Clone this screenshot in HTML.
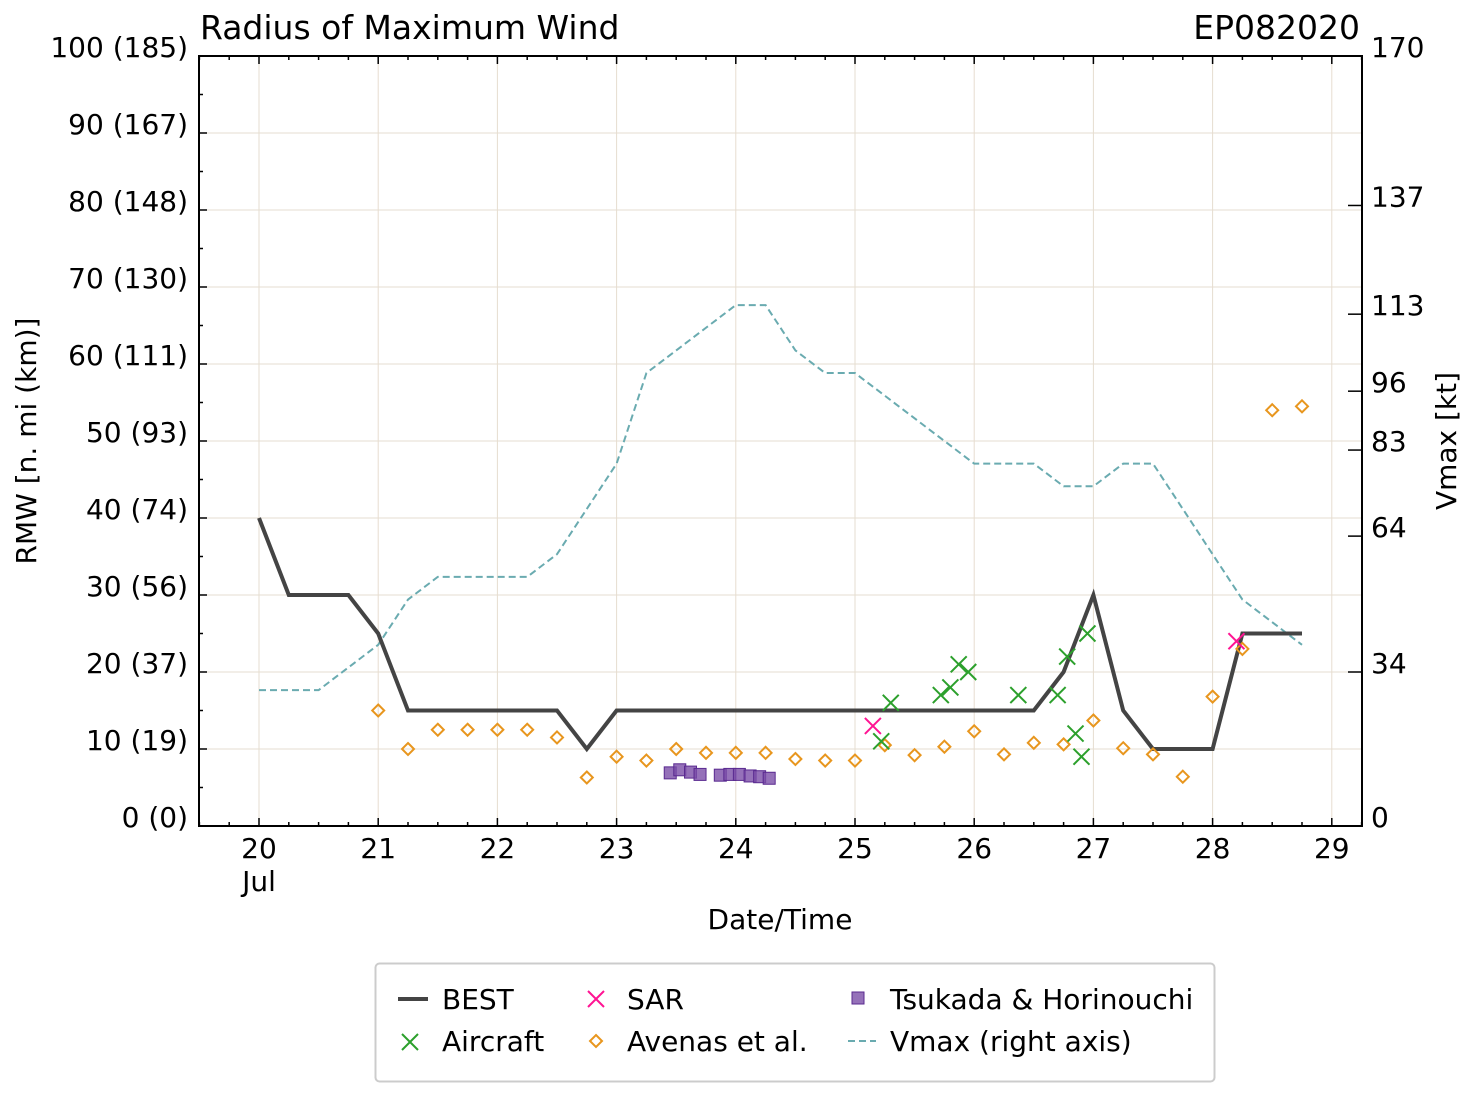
<!DOCTYPE html>
<html><head><meta charset="utf-8"><style>
body{margin:0;background:#fff;}
svg{display:block;font-family:"DejaVu Sans","Liberation Sans",sans-serif;}
</style></head><body>
<svg id="c" width="1477" height="1096" viewBox="0 0 1477 1096">
<rect width="1477" height="1096" fill="#fff"/>
<g id="grid"></g><g id="series"></g><g id="axes"></g>
<text x="200" y="39" font-size="33">Radius of Maximum Wind</text>
<text x="1360" y="39" font-size="33" text-anchor="end">EP082020</text>
<text x="780" y="929" font-size="28" text-anchor="middle">Date/Time</text>
<text transform="translate(36,441) rotate(-90)" font-size="28" text-anchor="middle">RMW [n. mi (km)]</text>
<text transform="translate(1456,441) rotate(-90)" font-size="28" text-anchor="middle">Vmax [kt]</text>
<g>
<rect x="375.5" y="963.5" width="839" height="118" rx="4" fill="#fff" stroke="#ccc" stroke-width="2"/>
<line x1="398" y1="999" x2="428" y2="999" stroke="#444" stroke-width="4"/>
<text x="442" y="1009" font-size="28">BEST</text>
<path d="M402,1034l16,16M418,1034l-16,16" stroke="#2ca02c" stroke-width="2"/>
<text x="442" y="1051" font-size="28">Aircraft</text>
<path d="M588,991l16,16M604,991l-16,16" stroke="#ff1493" stroke-width="2"/>
<text x="627" y="1009" font-size="28">SAR</text>
<path d="M596,1035l6,6l-6,6l-6,-6z" fill="none" stroke="#e8961e" stroke-width="2"/>
<text x="627" y="1051" font-size="28">Avenas et al.</text>
<rect x="852" y="992" width="12" height="12" fill="#7b4ea8" fill-opacity="0.8" stroke="#5a2a90"/>
<text x="890" y="1009" font-size="28">Tsukada &amp; Horinouchi</text>
<line x1="848" y1="1041" x2="876" y2="1041" stroke="#6aabb0" stroke-width="2" stroke-dasharray="7,4"/>
<text x="890" y="1051" font-size="28">Vmax (right axis)</text>
</g>
</svg>
<script>
const bestT=[20,20.25,20.5,20.75,21,21.25,21.5,21.75,22,22.25,22.5,22.75,23,23.25,23.5,23.75,24,24.25,24.5,24.75,25,25.25,25.5,25.75,26,26.25,26.5,26.75,27,27.25,27.5,27.75,28,28.25,28.5,28.75];
const bestR=[40,30,30,30,25,15,15,15,15,15,15,10,15,15,15,15,15,15,15,15,15,15,15,15,15,15,15,20,30,15,10,10,10,25,25,25];
const vmaxKt=[30,30,30,35,40,50,55,55,55,55,60,70,80,100,105,110,115,115,105,100,100,95,90,85,80,80,80,75,75,80,80,70,60,50,45,40];
const airT=[25.22,25.3,25.72,25.8,25.87,25.95,26.37,26.7,26.78,26.85,26.9,26.95];
const airR=[11,16,17,18,21,20,17,17,22,12,9,25];
const sarT=[25.15,28.2];
const sarR=[13,24];
const avT=[21,21.25,21.5,21.75,22,22.25,22.5,22.75,23,23.25,23.5,23.75,24,24.25,24.5,24.75,25,25.25,25.5,25.75,26,26.25,26.5,26.75,27,27.25,27.5,27.75,28,28.25,28.5,28.75];
const avR=[15,10,12.5,12.5,12.5,12.5,11.5,6.3,9,8.5,10,9.5,9.5,9.5,8.7,8.5,8.5,10.5,9.2,10.3,12.3,9.3,10.8,10.6,13.7,10.1,9.3,6.4,16.8,23,54,54.5];
const tsT=[23.45,23.53,23.62,23.7,23.87,23.95,24.03,24.12,24.2,24.28];
const tsR=[6.9,7.3,7.0,6.7,6.6,6.7,6.7,6.5,6.4,6.2];
const leftTicks=[0,10,20,30,40,50,60,70,80,90,100];
const leftLabels=["0 (0)","10 (19)","20 (37)","30 (56)","40 (74)","50 (93)","60 (111)","70 (130)","80 (148)","90 (167)","100 (185)"];
const rightTicks=[0,34,64,83,96,113,137,170];
const dayTicks=[20,21,22,23,24,25,26,27,28,29];

const L=199,R=1362,T=56,B=826;
const X=t=>259+(t-20)*119.2;
const Y=r=>B-r*(B-T)/100;
const YR=k=>B-k*(B-T)/170;
const NS="http://www.w3.org/2000/svg";
function mk(p,tag,a){const e=document.createElementNS(NS,tag);for(const k in a)e.setAttribute(k,a[k]);p.appendChild(e);return e;}
const G=document.getElementById('grid'),S=document.getElementById('series'),A=document.getElementById('axes');
dayTicks.forEach(d=>{const e=mk(G,'line',{x1:X(d),x2:X(d),y1:T,y2:B,stroke:'#e6ddd0','stroke-width':1});

});
leftTicks.forEach(v=>{const e=mk(G,'line',{x1:L,x2:R,y1:Y(v),y2:Y(v),stroke:'#e6ddd0','stroke-width':1});

});
let vp=vmaxKt.map((v,i)=>X(bestT[i])+','+YR(v)).join(' ');
let vl=mk(S,'polyline',{points:vp,fill:'none',stroke:'#6aabb0','stroke-width':2,'stroke-dasharray':'7,4'});


let bp=bestR.map((v,i)=>X(bestT[i])+','+Y(v)).join(' ');
let bl=mk(S,'polyline',{points:bp,fill:'none',stroke:'#444','stroke-width':4,'stroke-linejoin':'miter'});


avT.forEach((t,i)=>{const x=X(t),y=Y(avR[i]);const e=mk(S,'path',{d:`M${x},${y-6}l6,6l-6,6l-6,-6z`,fill:'none',stroke:'#e8961e','stroke-width':2});

});
tsT.forEach((t,i)=>{const x=X(t),y=Y(tsR[i]);const e=mk(S,'rect',{x:x-6,y:y-6,width:12,height:12,fill:'#7b4ea8','fill-opacity':0.8,stroke:'#5a2a90'});

});
function cross(t,r,c,n){const x=X(t),y=Y(r);const e=mk(S,'path',{d:`M${x-8},${y-8}l16,16M${x+8},${y-8}l-16,16`,stroke:c,'stroke-width':2});

}
airT.forEach((t,i)=>cross(t,airR[i],'#2ca02c','aircraft-point'));
sarT.forEach((t,i)=>cross(t,sarR[i],'#ff1493','sar-point'));
const fr=mk(A,'rect',{x:L,y:T,width:R-L,height:B-T,fill:'none',stroke:'#000','stroke-width':2});


for(let t=19.5;t<=29.26;t+=0.25){const x=X(t);const maj=Math.abs(t-Math.round(t))<0.01;const l=maj?8:4;
mk(A,'line',{x1:x,x2:x,y1:B,y2:B-l,stroke:'#000','stroke-width':1.5});mk(A,'line',{x1:x,x2:x,y1:T,y2:T+l,stroke:'#000','stroke-width':1.5});}
for(let v=0;v<=100;v+=5){const maj=v%10===0;mk(A,'line',{x1:L,x2:L+(maj?8:4),y1:Y(v),y2:Y(v),stroke:'#000','stroke-width':1.5});}
dayTicks.forEach(d=>{const e=mk(A,'text',{x:X(d),y:858,'font-size':28,'text-anchor':'middle'});e.textContent=d;

});
const jl=mk(A,'text',{x:X(20),y:891,'font-size':28,'text-anchor':'middle'});jl.textContent='Jul';


leftTicks.forEach((v,i)=>{const e=mk(A,'text',{x:188,y:Y(v)+1,'font-size':28,'text-anchor':'end'});e.textContent=leftLabels[i];

});
rightTicks.forEach(k=>{mk(A,'line',{x1:R-14,x2:R,y1:YR(k),y2:YR(k),stroke:'#000','stroke-width':1.5});
const e=mk(A,'text',{x:1371,y:YR(k)+1,'font-size':28});e.textContent=k;

});
</script>
</body></html>
